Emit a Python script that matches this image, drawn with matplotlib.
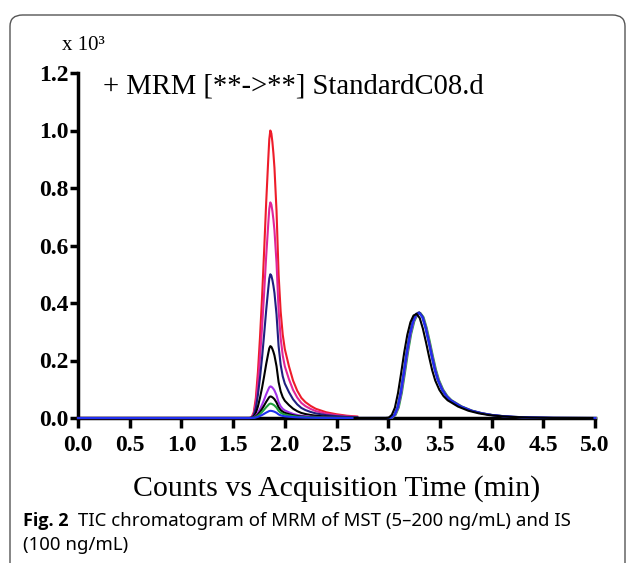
import matplotlib
matplotlib.use("Agg")
import matplotlib.pyplot as plt
from matplotlib.patches import FancyBboxPatch

# analyte peak (MST), normalised profile
mst_time = [0.0, 1.66, 1.68, 1.70, 1.72, 1.74, 1.76, 1.78, 1.80, 1.82, 1.84,
            1.85, 1.86, 1.87, 1.88, 1.89, 1.90, 1.92, 1.94, 1.96, 1.98, 2.00,
            2.04, 2.08, 2.12, 2.16, 2.20, 2.25, 2.30, 2.40, 2.50, 2.60, 2.70]
mst_shape = [0.0, 0.0, 0.003, 0.02, 0.07, 0.16, 0.28, 0.42, 0.58, 0.75, 0.90,
             0.97, 1.0, 0.99, 0.96, 0.92, 0.87, 0.72, 0.50, 0.37, 0.29, 0.24,
             0.18, 0.13, 0.095, 0.07, 0.055, 0.042, 0.032, 0.02, 0.013, 0.008, 0.005]
mst_height = [1.0, 0.75, 0.50, 0.25, 0.11, 0.075, 0.05, 0.025]
mst_color = ["#ee1c2a", "#e0259a", "#1f1f80", "black", "#a030e8", "black",
             "#1fa03a", "#2030f0"]

# internal standard peak, normalised profile
is_time = [2.70, 3.00, 3.03, 3.06, 3.09, 3.12, 3.15, 3.18, 3.21, 3.24, 3.27,
           3.30, 3.33, 3.36, 3.39, 3.42, 3.45, 3.48, 3.52, 3.56, 3.60, 3.65,
           3.70, 3.80, 3.90, 4.00, 4.10, 4.20, 4.40, 4.60, 5.00]
is_shape = [0.0, 0.0, 0.003, 0.03, 0.10, 0.24, 0.43, 0.63, 0.80, 0.92, 0.985,
            1.0, 0.96, 0.86, 0.73, 0.59, 0.46, 0.36, 0.27, 0.21, 0.17, 0.14,
            0.11, 0.07, 0.045, 0.028, 0.018, 0.011, 0.004, 0.001, 0.0]
is_height = [0.365, 0.365, 0.368, 0.365, 0.362]
is_shift = [0.012, 0.006, 0.0, 0.0, -0.025]
is_color = ["#1fa03a", "#a030e8", "#1f1f80", "#2030f0", "black"]

xticks = [0.0, 0.5, 1.0, 1.5, 2.0, 2.5, 3.0, 3.5, 4.0, 4.5, 5.0]
yticks = [0.0, 0.2, 0.4, 0.6, 0.8, 1.0, 1.2]

serif = "Liberation Serif"

fig = plt.figure(figsize=(6.3, 5.63), dpi=100)
ax = fig.add_axes([78 / 630, 1 - 418 / 563, 517 / 630, 345 / 563])

for h, c in zip(mst_height, mst_color):
    ax.plot(mst_time, [h * s for s in mst_shape], color=c, lw=1.5, clip_on=False, zorder=3)
for h, d, c in zip(is_height, is_shift, is_color):
    ax.plot([t + d for t in is_time], [h * s for s in is_shape], color=c, lw=1.5,
            clip_on=False, zorder=3)

ax.set_xlim(0, 5.0)
ax.set_ylim(0, 1.2)
for s in ["top", "right"]:
    ax.spines[s].set_visible(False)
ax.spines["left"].set_linewidth(2.5)
ax.spines["bottom"].set_linewidth(2.5)
ax.set_xticks(xticks)
ax.set_yticks(yticks)
ax.set_xticklabels([f"{v:.1f}" for v in xticks], fontfamily=serif, fontweight="bold", fontsize=17)
ax.set_yticklabels([f"{v:.1f}" for v in yticks], fontfamily=serif, fontweight="bold", fontsize=17)
ax.tick_params(axis="x", length=7, width=2.5, pad=5)
ax.tick_params(axis="y", length=6, width=2.5, pad=1)

ax.set_xlabel("Counts vs Acquisition Time (min)", fontfamily=serif, fontsize=21.5, labelpad=14)

fig.text(62 / 630, 1 - 45 / 563, "x 10³", fontfamily=serif, fontsize=15, va="center")
fig.text(103 / 630, 1 - 86 / 563, "+ MRM [**->**] StandardC08.d", fontfamily=serif,
         fontsize=20.6, va="center")

fig.text(23 / 630, 1 - 521 / 563, "Fig. 2", fontfamily="Open Sans", fontweight="bold",
         fontsize=13, va="center")
fig.text(78 / 630, 1 - 521 / 563, "TIC chromatogram of MRM of MST (5\u2013200 ng/mL) and IS",
         fontfamily="Noto Sans", fontsize=13.4, va="center")
fig.text(23 / 630, 1 - 545 / 563, "(100 ng/mL)", fontfamily="Noto Sans", fontsize=13.4,
         va="center")

box = FancyBboxPatch((10 / 630, -0.05), 615 / 630, 1 - 15 / 563 + 0.05,
                     boxstyle="round,pad=0,rounding_size=0.02", transform=fig.transFigure,
                     fill=False, edgecolor="#555555", lw=1.0)
fig.patches.append(box)

fig.savefig("out.png", dpi=100)
